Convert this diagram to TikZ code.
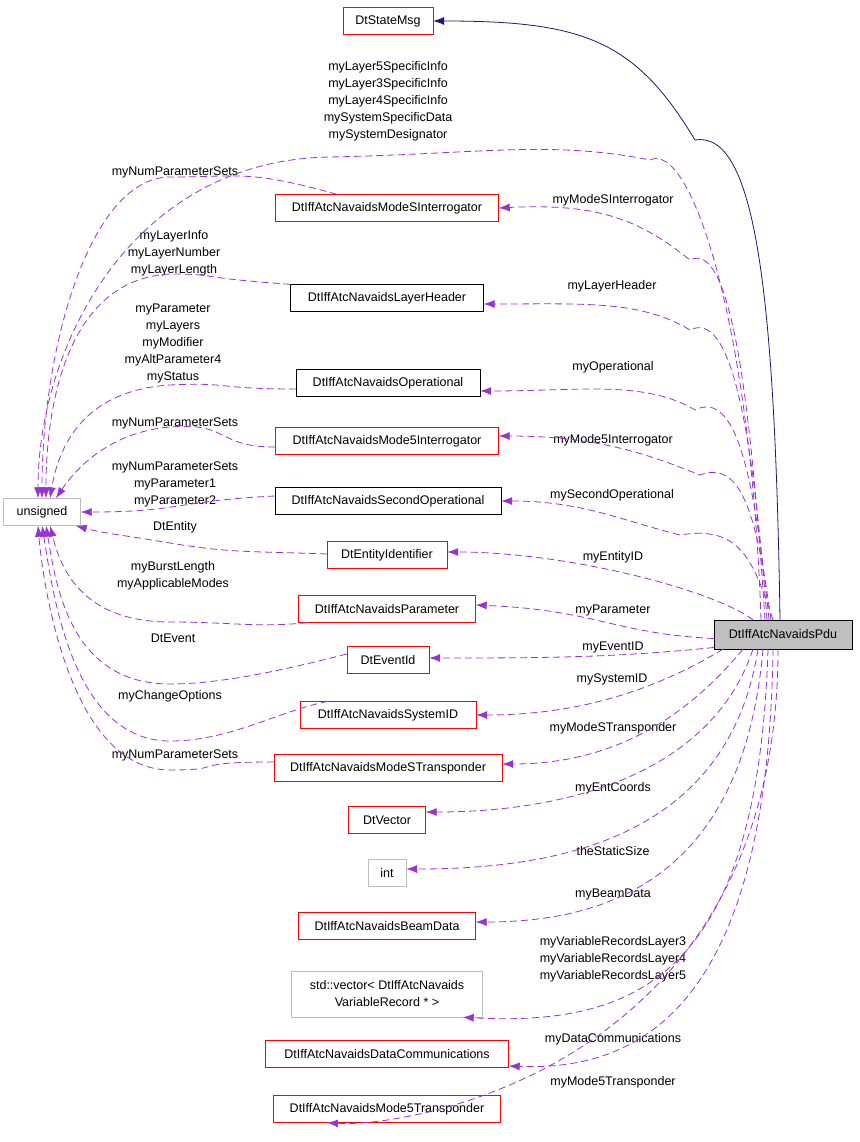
\documentclass[tikz,border=0pt]{standalone}
\usepackage{fontspec}
\setmainfont{Liberation Sans}
\usetikzlibrary{arrows.meta}
\definecolor{mem}{HTML}{9A32CD}
\definecolor{inh}{HTML}{191970}
\definecolor{gbox}{HTML}{BFBFBF}
\begin{document}
\begin{tikzpicture}[x=1pt,y=-1pt,
  box/.style={draw,rectangle,minimum height=27pt,inner xsep=6pt,font=\fontsize{12.5}{17}\selectfont},
  rbox/.style={box,draw=red},
  kbox/.style={box,draw=black},
  gb/.style={box,draw=gbox},
  lab/.style={align=center,inner sep=0pt,font=\fontsize{12.5}{17}\selectfont},
  m/.style={draw=mem,dash pattern=on 7pt off 4pt,line width=0.8pt,-{Latex[length=11pt,width=8pt]}}]
\path[use as bounding box] (0,0) rectangle (859,1142);
% nodes
\node[rbox,minimum width=90pt] (sm) at (388,21) {DtStateMsg};
\node[rbox,minimum width=223pt] (msi) at (387,208) {DtIffAtcNavaidsModeSInterrogator};
\node[kbox,minimum width=193pt] (lh) at (387,298) {DtIffAtcNavaidsLayerHeader};
\node[kbox,minimum width=184pt] (op) at (388,383) {DtIffAtcNavaidsOperational};
\node[rbox,minimum width=223pt] (m5i) at (387,441) {DtIffAtcNavaidsMode5Interrogator};
\node[kbox,minimum width=226pt] (so) at (388,501) {DtIffAtcNavaidsSecondOperational};
\node[rbox,minimum width=120pt] (ei) at (387,555) {DtEntityIdentifier};
\node[rbox,minimum width=177pt] (par) at (387,609) {DtIffAtcNavaidsParameter};
\node[rbox,minimum width=82pt] (ev) at (388,660) {DtEventId};
\node[rbox,minimum width=176pt] (sid) at (388,715) {DtIffAtcNavaidsSystemID};
\node[rbox,minimum width=228pt] (mst) at (388,768) {DtIffAtcNavaidsModeSTransponder};
\node[rbox,minimum width=77pt] (vec) at (387,820) {DtVector};
\node[gb,minimum width=38pt] (int) at (387,873) {int};
\node[rbox,minimum width=177pt] (bd) at (387,926) {DtIffAtcNavaidsBeamData};
\node[gb,minimum width=191pt,minimum height=46pt,align=center] (vr) at (387,994) {std::vector< DtIffAtcNavaids\\VariableRecord * >};
\node[rbox,minimum width=243pt] (dc) at (387,1054) {DtIffAtcNavaidsDataCommunications};
\node[rbox,minimum width=227pt] (m5t) at (387,1109) {DtIffAtcNavaidsMode5Transponder};
\node[gb,minimum width=77pt] (uns) at (42,512) {unsigned};
\node[box,fill=gbox,minimum width=138pt,minimum height=29pt] (pdu) at (783,634.5) {DtIffAtcNavaidsPdu};
% labels
\node[lab] (l1) at (388,101) {myLayer5SpecificInfo\\myLayer3SpecificInfo\\myLayer4SpecificInfo\\mySystemSpecificData\\mySystemDesignator};
\node[lab] (l2) at (175,172) {myNumParameterSets};
\node[lab] (l3) at (613,200) {myModeSInterrogator};
\node[lab] (l4) at (174,253) {myLayerInfo\\myLayerNumber\\myLayerLength};
\node[lab] (l5) at (612,286) {myLayerHeader};
\node[lab] (l6) at (173,343) {myParameter\\myLayers\\myModifier\\myAltParameter4\\myStatus};
\node[lab] (l7) at (613,367) {myOperational};
\node[lab] (l8) at (175,423) {myNumParameterSets};
\node[lab] (l9) at (613,440) {myMode5Interrogator};
\node[lab] (l10) at (175,484) {myNumParameterSets\\myParameter1\\myParameter2};
\node[lab] (l11) at (612,495) {mySecondOperational};
\node[lab] (l12) at (175,527) {DtEntity};
\node[lab] (l13) at (613,557) {myEntityID};
\node[lab] (l14) at (173,576) {myBurstLength\\myApplicableModes};
\node[lab] (l15) at (613,610) {myParameter};
\node[lab] (l16) at (173,638) {DtEvent};
\node[lab] (l17) at (613,647) {myEventID};
\node[lab] (l18) at (170,696) {myChangeOptions};
\node[lab] (l19) at (612,679) {mySystemID};
\node[lab] (l20) at (175,755) {myNumParameterSets};
\node[lab] (l21) at (613,728) {myModeSTransponder};
\node[lab] (l22) at (613,788) {myEntCoords};
\node[lab] (l23) at (613,851) {theStaticSize};
\node[lab] (l24) at (613,894) {myBeamData};
\node[lab] (l25) at (613,959) {myVariableRecordsLayer3\\myVariableRecordsLayer4\\myVariableRecordsLayer5};
\node[lab] (l26) at (613,1039) {myDataCommunications};
\node[lab] (l27) at (613,1082) {myMode5Transponder};
% inheritance
\draw[draw=inh,line width=0.8pt,-{Latex[length=11pt,width=8pt]}] ([xshift=-3pt]pdu.north) .. controls +(-5,-330) and +(60,-10) .. (695,140) .. controls +(-60,-100) and +(150,0) .. (sm.east);
% members from pdu
\draw[m] ([xshift=-22pt]pdu.north) .. controls +(-10,-300) and +(40,-20) .. (650,160) .. controls +(-100,-20) and +(150,-3) .. (330,157) .. controls +(-200,3) and +(0,-150) .. ([xshift=-4pt]uns.north);
\draw[m] ([xshift=-18pt]pdu.north) .. controls +(-15,-230) and +(40,-20) .. (690,260) .. controls +(-50,-40) and +(100,-5) .. (msi.east);
\draw[m] ([xshift=-16pt]pdu.north) .. controls +(-15,-200) and +(40,-20) .. (690,330) .. controls +(-50,-30) and +(100,0) .. ([yshift=-6pt]lh.east);
\draw[m] ([xshift=-14pt]pdu.north) .. controls +(-15,-150) and +(40,-20) .. (695,410) .. controls +(-50,-30) and +(100,0) .. ([yshift=-8pt]op.east);
\draw[m] ([xshift=-12pt]pdu.north) .. controls +(-15,-110) and +(40,-15) .. (700,475) .. controls +(-50,-20) and +(100,0) .. ([yshift=5pt]m5i.east);
\draw[m] ([xshift=-10pt]pdu.north) .. controls +(-20,-60) and +(60,-10) .. (680,535) .. controls +(-60,-15) and +(80,0) .. (so.east);
\draw[m] ([xshift=-30pt]pdu.north) .. controls +(-40,-30) and +(120,0) .. ([yshift=3pt]ei.east);
\draw[m] ([yshift=-4pt]pdu.west) .. controls +(-100,-5) and +(120,5) .. ([yshift=4pt]par.east);
\draw[m] ([yshift=-13pt]pdu.west) .. controls +(-100,10) and +(120,0) .. ([yshift=2pt]ev.east);
\draw[m] ([xshift=-60pt]pdu.south) .. controls +(-50,30) and +(120,0) .. (sid.east);
\draw[m] ([xshift=-40pt]pdu.south) .. controls +(-50,60) and +(120,0) .. ([yshift=4pt]mst.east);
\draw[m] ([xshift=-30pt]pdu.south) .. controls +(-40,120) and +(150,0) .. ([yshift=8pt]vec.east);
\draw[m] ([xshift=-25pt]pdu.south) .. controls +(-30,190) and +(150,0) .. ([yshift=4pt]int.east);
\draw[m] ([xshift=-20pt]pdu.south) .. controls +(-20,230) and +(130,0) .. ([yshift=4pt]bd.east);
\draw[m] ([xshift=-15pt]pdu.south) .. controls +(-10,320) and +(180,10) .. ([xshift=-20pt]vr.south east);
\draw[m] ([xshift=-10pt]pdu.south) .. controls +(-5,360) and +(130,5) .. ([yshift=-12pt]dc.east);
\draw[m] ([xshift=-5pt]pdu.south) .. controls +(0,420) and +(80,5) .. ([xshift=-60pt]m5t.south);
% members to unsigned
\draw[m] ([xshift=-50pt]msi.north) .. controls +(-90,-25) and +(70,0) .. (170,177) .. controls +(-80,0) and +(0,-150) .. ([xshift=0pt]uns.north);
\draw[m] (lh.north west) .. controls +(-100,-7) and +(50,0) .. (170,274) .. controls +(-100,5) and +(0,-100) .. ([xshift=4pt]uns.north);
\draw[m] ([yshift=-6pt]op.west) .. controls +(-80,0) and +(60,-3) .. (170,385) .. controls +(-80,5) and +(10,-60) .. ([xshift=8pt]uns.north);
\draw[m] ([yshift=-6pt]m5i.west) .. controls +(-60,0) and +(60,-5) .. (170,427) .. controls +(-60,5) and +(20,-30) .. ([xshift=14pt]uns.north);
\draw[m] ([yshift=5pt]so.west) .. controls +(-100,5) and +(100,0) .. (uns.east);
\draw[m] ([yshift=1pt]ei.west) .. controls +(-80,-3) and +(60,10) .. (170,543) .. controls +(-60,-10) and +(30,8) .. ([xshift=-5pt]uns.south east);
\draw[m] ([xshift=-80pt]par.south) .. controls +(-50,5) and +(60,0) .. (170,622) .. controls +(-90,0) and +(10,40) .. ([xshift=8pt]uns.south);
\draw[m] ([yshift=6pt]ev.west) .. controls +(-40,10) and +(60,0) .. (170,684) .. controls +(-100,0) and +(10,60) .. ([xshift=4pt]uns.south);
\draw[m] ([xshift=-60pt]sid.north) .. controls +(-50,10) and +(60,0) .. (170,741) .. controls +(-100,0) and +(10,60) .. ([xshift=0pt]uns.south);
\draw[m] ([yshift=6pt]mst.west) .. controls +(-90,0) and +(60,0) .. (170,770) .. controls +(-100,0) and +(5,60) .. ([xshift=-4pt]uns.south);
\end{tikzpicture}
\end{document}
